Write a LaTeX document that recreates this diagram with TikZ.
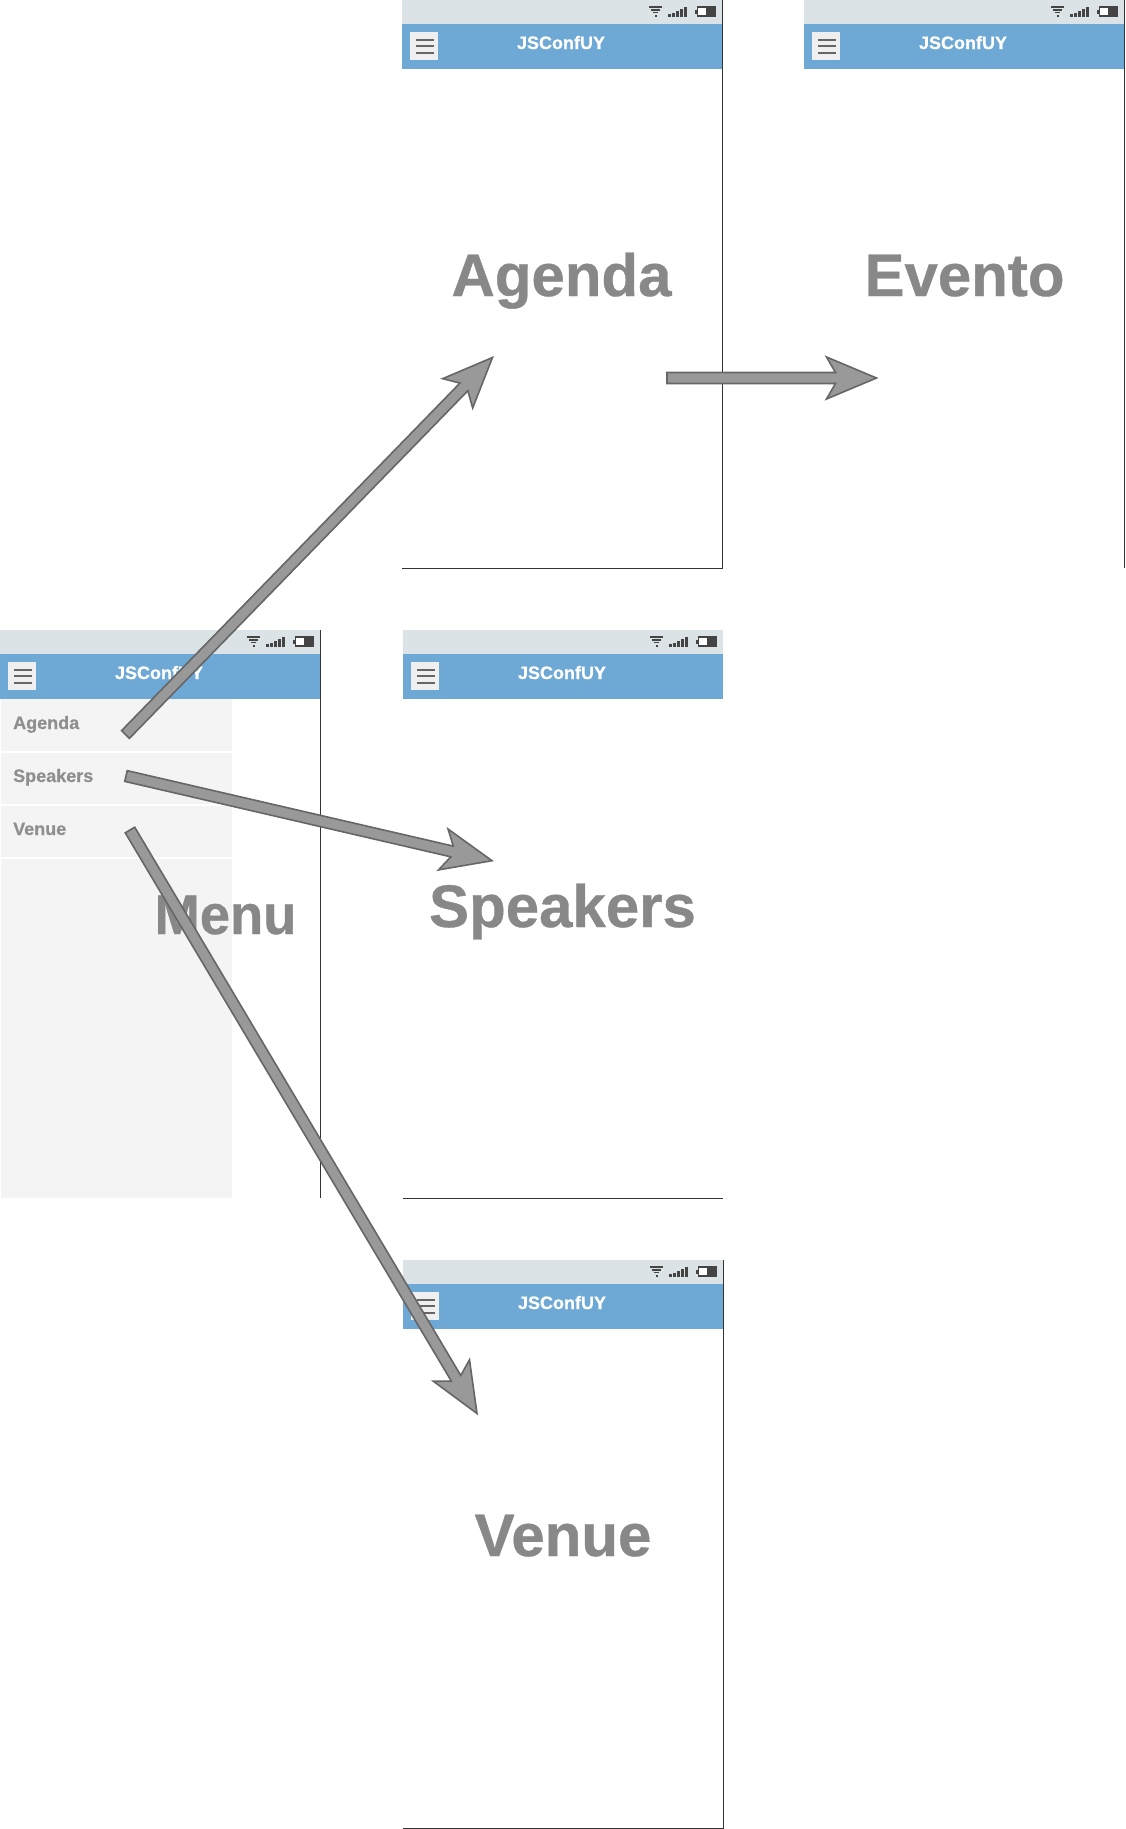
\documentclass[tikz,border=0pt]{standalone}
\usepackage{fontspec}
\setmainfont{Liberation Sans}
\newfontfamily\heavyf{Liberation Sans}[UprightFont={* Bold},FakeBold=0.6]
\usetikzlibrary{calc}
\definecolor{barc}{HTML}{DCE3E6}
\definecolor{headc}{HTML}{6EA9D6}
\definecolor{burgerbg}{HTML}{EFEFEF}
\definecolor{burgerln}{HTML}{666666}
\definecolor{iconc}{HTML}{444444}
\definecolor{framec}{HTML}{333333}
\definecolor{panelc}{HTML}{F4F4F4}
\definecolor{bigtxt}{HTML}{888888}
\definecolor{itemc}{HTML}{8F8F8F}
\definecolor{arrowf}{HTML}{999999}
\definecolor{arrowd}{HTML}{666666}
\tikzset{
  x=1pt,y=-1pt,
  framelin/.style={draw=framec,line width=1pt},
  titletxt/.style={text=white,font=\heavyf\fontsize{18}{18}\selectfont,inner sep=0pt,anchor=base},
  bigtxtst/.style={text=bigtxt,font=\heavyf\fontsize{60}{60}\selectfont,inner sep=0pt,anchor=base},
  itemtxt/.style={text=itemc,font=\heavyf\fontsize{18}{18}\selectfont,inner sep=0pt,anchor=base west},
  fatarrow/.style={draw=arrowd,fill=arrowf,line width=1.6pt,line join=miter},
}
% #1 x, #2 y, #3 name
\newcommand{\phonechrome}[3]{%
  \begin{scope}[shift={(#1,#2)}]
    \fill[barc] (0,0) rectangle (320,24);
    \fill[headc] (0,24) rectangle (320,69);
    \fill[burgerbg] (8,32) rectangle (36,60);
    \foreach \yy in {39.5,46,52.5}{\fill[burgerln] (14,\yy-1) rectangle (32,\yy+1);}
    \node[titletxt] (#3title) at (159,49) {JSConfUY};
    % wifi
    \fill[iconc] (247,6) rectangle (260,7.5);
    \fill[iconc] (249,9) rectangle (258,10.5);
    \fill[iconc] (251,12) rectangle (256,13.2);
    \fill[iconc] (252.5,14.5) rectangle (254.5,16.8);
    % signal
    \fill[iconc] (266,14) rectangle (269,16.7);
    \fill[iconc] (270,12.5) rectangle (273,16.7);
    \fill[iconc] (274,10.5) rectangle (277,16.7);
    \fill[iconc] (278,8.5) rectangle (281,16.7);
    \fill[iconc] (282,6.5) rectangle (285,16.7);
    % battery
    \fill[iconc] (292.5,9.5) rectangle (295,13.5);
    \fill[iconc] (294.5,6.3) rectangle (314,17);
    \fill[white] (296,8) rectangle (304,15);
  \end{scope}}
% fat arrow from coordinate #1 to coordinate #2
\newcommand{\fatarrowline}[2]{%
  \coordinate (h#1) at ($(#2)!50pt!(#1)$);
  \coordinate (n#1) at ($(#2)!41pt!(#1)$);
  \draw[fatarrow] ($(#1)!5.5pt!90:(#2)$) -- ($(n#1)!5.5pt!-90:(#1)$) -- ($(h#1)!21pt!-90:(#1)$)
    -- (#2) -- ($(h#1)!21pt!90:(#1)$) -- ($(n#1)!5.5pt!90:(#1)$) -- ($(#1)!5.5pt!-90:(#2)$) -- cycle;}
\begin{document}
\begin{tikzpicture}
\useasboundingbox (0,0) rectangle (1125,1829);
\fill[white] (0,0) rectangle (1125,1829);
% frames
\phonechrome{402}{0}{ag}
\phonechrome{804}{0}{ev}
\phonechrome{0}{630}{me}
\phonechrome{403}{630}{sp}
\phonechrome{403}{1260}{ve}
\draw[framelin] (722.5,0) -- (722.5,568.5) -- (402,568.5);
\draw[framelin] (1124.5,0) -- (1124.5,568);
\draw[framelin] (320.5,630) -- (320.5,1198);
\draw[framelin] (403,1198.5) -- (723,1198.5);
\draw[framelin] (723.5,1260) -- (723.5,1828.5) -- (403,1828.5);
% menu panel
\fill[panelc] (1,699) rectangle (232,751);
\fill[panelc] (1,752.5) rectangle (232,804);
\fill[panelc] (1,805.5) rectangle (232,857);
\fill[panelc] (1,858.5) rectangle (232,1198);
\node[itemtxt] (itemag) at (13,729) {Agenda};
\node[itemtxt] (itemsp) at (13,782) {Speakers};
\node[itemtxt] (itemve) at (13,835) {Venue};
% big labels
\node[bigtxtst] (agenda) at (561.5,296) {Agenda};
\node[bigtxtst] (evento) at (964.5,296) {Evento};
\node[bigtxtst,xscale=0.97,font=\heavyf\fontsize{56}{56}\selectfont] (menu) at (225.5,934) {Menu};
\node[bigtxtst] (speakers) at (562.5,927) {Speakers};
\node[bigtxtst] (venue) at (563,1556) {Venue};
% arrows
\coordinate (a1) at (125.5,734.5);
\coordinate (b1) at (492.5,357.5);
\coordinate (a2) at (126,776);
\coordinate (b2) at (492,860.7);
\coordinate (a3) at (130,830);
\coordinate (b3) at (477,1413.5);
\coordinate (a4) at (667,378);
\coordinate (b4) at (876.5,378);
\fatarrowline{a1}{b1}
\fatarrowline{a2}{b2}
\fatarrowline{a3}{b3}
\fatarrowline{a4}{b4}
\end{tikzpicture}
\end{document}
